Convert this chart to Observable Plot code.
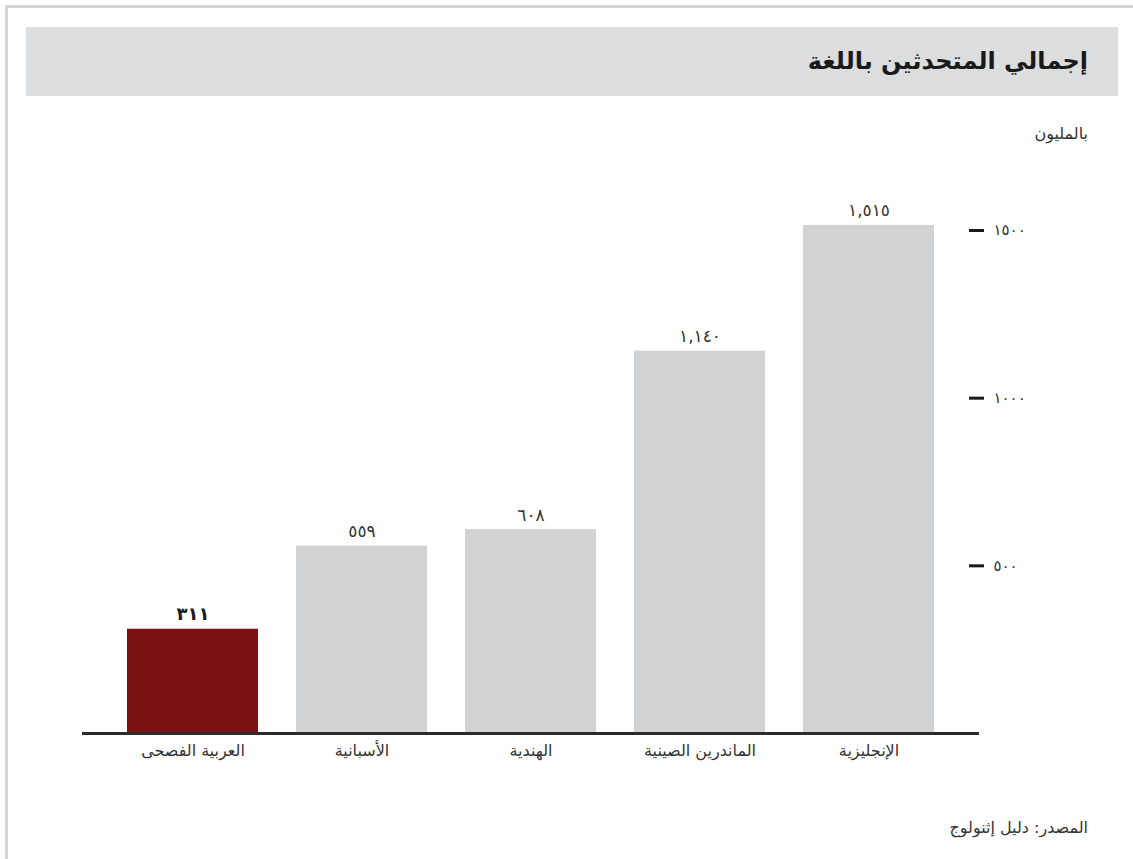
<!DOCTYPE html>
<html lang="ar">
<head>
<meta charset="utf-8">
<script src="https://cdn.jsdelivr.net/npm/d3@7"></script>
<script src="https://cdn.jsdelivr.net/npm/@observablehq/plot@0.6"></script>
<style>
  html, body { margin: 0; padding: 0; background: #fff; width: 1133px; height: 859px; overflow: hidden; }
  body { position: relative; font-family: "DejaVu Sans", "Noto Sans", sans-serif; }
  #frame { position: absolute; left: 5px; top: 5px; width: 1300px; height: 1000px;
           border-left: 3px solid #d6d4d4; border-top: 3px solid #d6d4d4; }
  #titlebar { position: absolute; left: 26px; top: 27px; width: 1092px; height: 69px; background: #dcdddf; }
  #title { position: absolute; right: 30px; top: 0; line-height: 69px; font-size: 24px; font-weight: bold;
           color: #1a1a1a; direction: rtl; margin: 0; }
  #subtitle { position: absolute; right: 45px; top: 124px; font-size: 16px; color: #333; direction: rtl; }
  #chart { position: absolute; left: 0; top: 170px; }
  #source { position: absolute; right: 45px; top: 818px; font-size: 16px; color: #333; direction: rtl; }
</style>
</head>
<body>
<div id="frame"></div>
<div id="titlebar"><h1 id="title">إجمالي المتحدثين باللغة</h1></div>
<div id="subtitle">بالمليون</div>
<div id="chart"></div>
<div id="source">المصدر: دليل إثنولوج</div>
<script>
const languages = ["العربية الفصحى", "الأسبانية", "الهندية", "الماندرين الصينية", "الإنجليزية"];
const speakers = [311, 559, 608, 1140, 1515];
const valueLabels = ["٣١١", "٥٥٩", "٦٠٨", "١,١٤٠", "١,٥١٥"];
const highlighted = [true, false, false, false, false];
const yTicks = [500, 1000, 1500];
const yTickLabels = ["٥٠٠", "١٠٠٠", "١٥٠٠"];

const data = languages.map((lang, i) => ({
  lang, value: speakers[i], label: valueLabels[i], hl: highlighted[i]
}));

const chart = Plot.plot({
  width: 1133,
  height: 620,
  marginLeft: 82,
  marginRight: 154,
  marginTop: 60,
  marginBottom: 57,
  style: { fontFamily: '"DejaVu Sans", "Noto Sans", sans-serif', background: "transparent", overflow: "visible" },
  x: { domain: languages, padding: 0.225, insetLeft: 6, insetRight: 7, label: null },
  y: { domain: [0, 1500], label: null },
  marks: [
    Plot.barY(data, {
      x: "lang", y: "value",
      fill: d => d.hl ? "#7b1214" : "#d1d2d4"
    }),
    Plot.text(data.filter(d => !d.hl), {
      x: "lang", y: "value", text: "label",
      lineAnchor: "bottom", dy: -9, fontSize: 17, fill: "#333"
    }),
    Plot.text(data.filter(d => d.hl), {
      x: "lang", y: "value", text: "label",
      lineAnchor: "bottom", dy: -9, fontSize: 18, fontWeight: "bold", fill: "#1a1a1a"
    }),
    Plot.ruleY([0], { stroke: "#2b2b2b", strokeWidth: 3 }),
    Plot.axisX({
      tickSize: 0, tickPadding: 11, fontSize: 16, fill: "#333", label: null
    }),
    Plot.axisY({
      anchor: "right", ticks: yTicks, tickSize: 15, dx: -11, tickPadding: 10,
      tickFormat: d => yTickLabels[yTicks.indexOf(d)],
      strokeWidth: 3, stroke: "#1a1a1a", fontSize: 15, fill: "#333", label: null
    })
  ]
});
document.getElementById("chart").appendChild(chart);
</script>
</body>
</html>
